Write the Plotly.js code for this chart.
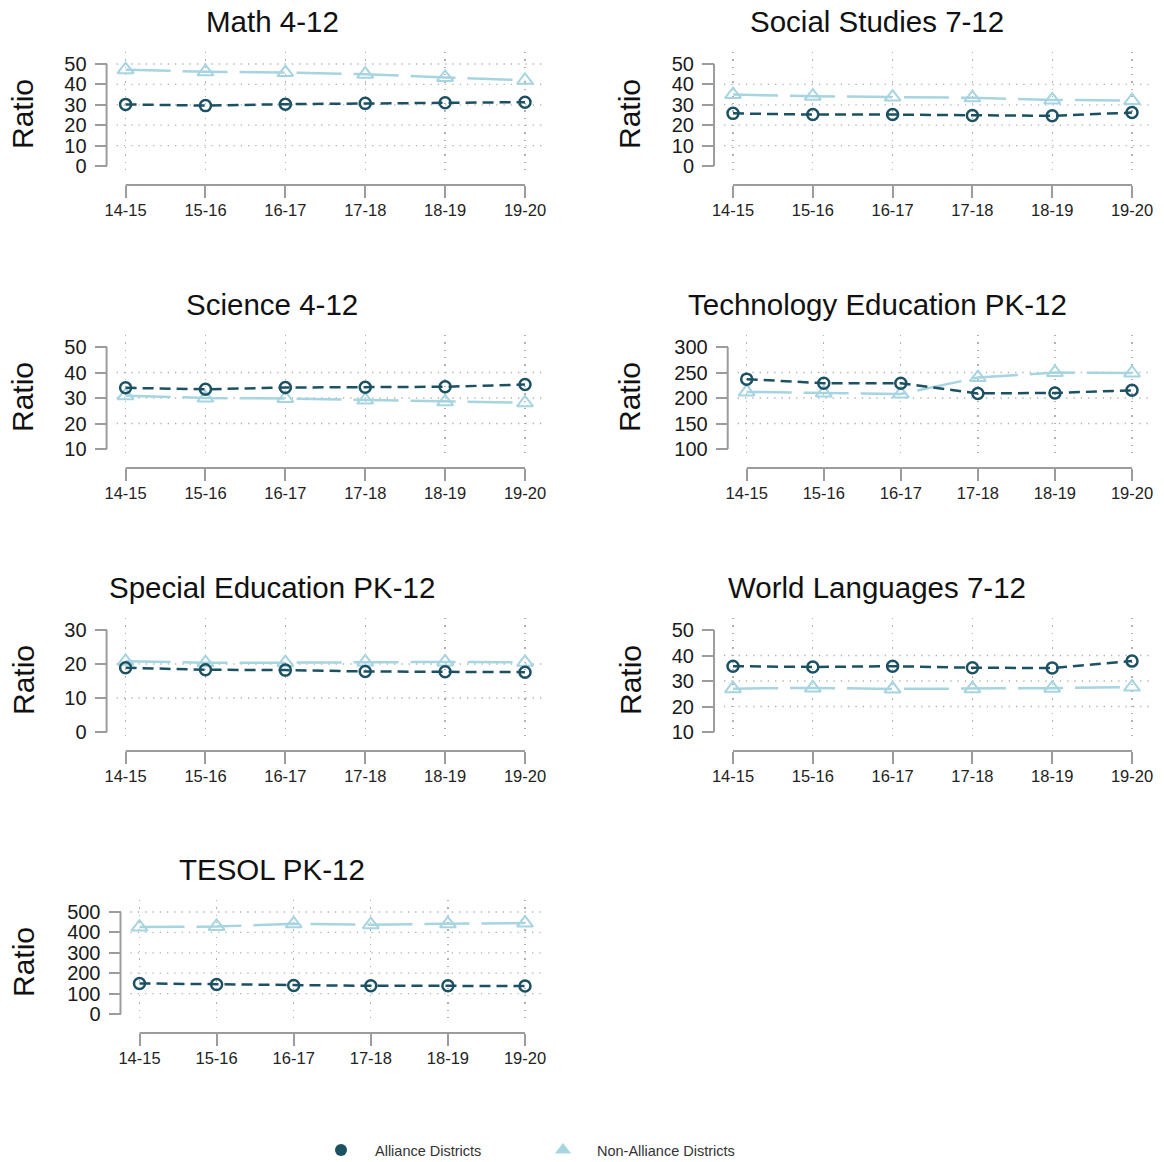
<!DOCTYPE html>
<html>
<head>
<meta charset="utf-8">
<script src="https://cdn.plot.ly/plotly-3.0.1.min.js"></script>
<style>html,body{margin:0;padding:0;background:#fff;}#chart{width:1164px;height:1162px;}</style>
</head>
<body>
<div id="chart"></div>
<script>
// ---- data ----
const years = ['14-15', '15-16', '16-17', '17-18', '18-19', '19-20'];
const seriesNames = ['Alliance Districts', 'Non-Alliance Districts'];
const panelTitles = ['Math 4-12', 'Social Studies 7-12', 'Science 4-12', 'Technology Education PK-12',
                     'Special Education PK-12', 'World Languages 7-12', 'TESOL PK-12'];

const mathAlliance      = [30.2, 29.6, 30.3, 30.7, 31.0, 31.3];
const mathNonAlliance   = [47.2, 46.2, 45.8, 45.0, 43.4, 42.0];
const socialAlliance    = [25.8, 25.2, 25.2, 24.8, 24.6, 26.2];
const socialNonAlliance = [35.0, 34.2, 33.8, 33.4, 32.4, 32.1];
const scienceAlliance   = [34.0, 33.4, 34.1, 34.2, 34.4, 35.3];
const scienceNonAlliance= [30.9, 30.0, 29.8, 29.2, 28.5, 28.1];
const techAlliance      = [237, 229, 229, 209, 210, 215];
const techNonAlliance   = [212, 210, 208, 240, 250, 249];
const spedAlliance      = [18.9, 18.3, 18.2, 17.8, 17.7, 17.6];
const spedNonAlliance   = [20.8, 20.4, 20.4, 20.6, 20.6, 20.5];
const wlAlliance        = [35.8, 35.5, 35.8, 35.2, 35.1, 37.8];
const wlNonAlliance     = [27.0, 27.3, 26.9, 27.0, 27.2, 27.6];
const tesolAlliance     = [150, 145, 140, 138, 138, 137];
const tesolNonAlliance  = [426, 429, 442, 438, 442, 446];

const mathTicks    = [0, 10, 20, 30, 40, 50];
const socialTicks  = [0, 10, 20, 30, 40, 50];
const scienceTicks = [10, 20, 30, 40, 50];
const techTicks    = [100, 150, 200, 250, 300];
const spedTicks    = [0, 10, 20, 30];
const wlTicks      = [10, 20, 30, 40, 50];
const tesolTicks   = [0, 100, 200, 300, 400, 500];

const mathGrid    = [10, 20, 30, 40, 50];
const socialGrid  = [10, 20, 30, 40];
const scienceGrid = [20, 30, 40];
const techGrid    = [150, 200, 250];
const spedGrid    = [10, 20];
const wlGrid      = [20, 30, 40];
const tesolGrid   = [100, 200, 300, 400, 500];

// ---- layout helpers ----
const W = 1164, H = 1162;
const darkColor = '#1b5163', lightColor = '#a6d4e0';
const axisGray = '#9c9c9c', gridGray = '#b0b0b0';
const FONT = 'Liberation Sans, Arial, sans-serif';

const panels = [
  {title: panelTitles[0], a: mathAlliance,    n: mathNonAlliance,    ticks: mathTicks,    grid: mathGrid,    col: 0, row: 0, first: 125.6},
  {title: panelTitles[1], a: socialAlliance,  n: socialNonAlliance,  ticks: socialTicks,  grid: socialGrid,  col: 1, row: 0, first: 733},
  {title: panelTitles[2], a: scienceAlliance, n: scienceNonAlliance, ticks: scienceTicks, grid: scienceGrid, col: 0, row: 1, first: 125.6},
  {title: panelTitles[3], a: techAlliance,    n: techNonAlliance,    ticks: techTicks,    grid: techGrid,    col: 1, row: 1, first: 746.7},
  {title: panelTitles[4], a: spedAlliance,    n: spedNonAlliance,    ticks: spedTicks,    grid: spedGrid,    col: 0, row: 2, first: 125.6},
  {title: panelTitles[5], a: wlAlliance,      n: wlNonAlliance,      ticks: wlTicks,      grid: wlGrid,      col: 1, row: 2, first: 733},
  {title: panelTitles[6], a: tesolAlliance,   n: tesolNonAlliance,   ticks: tesolTicks,   grid: tesolGrid,   col: 0, row: 3, first: 139.5}
];
const rowTop = [64, 347, 630, 912];     // pixel y of highest tick
const colLast = [525, 1132];            // pixel x of last category
const titleX = [272, 877];
const ratioX = [23, 630];
const TICKSPAN = 102;

const traces = [];
const layout = {
  width: W, height: H, autosize: false,
  margin: {l: 0, r: 0, t: 0, b: 0, autoexpand: false},
  paper_bgcolor: '#fff', plot_bgcolor: '#fff',
  font: {family: FONT, color: '#222'},
  showlegend: true,
  legend: {
    orientation: 'h', x: 307 / W, xanchor: 'left', y: 1 - 1150 / H, yanchor: 'middle',
    font: {family: FONT, size: 14.5, color: '#333'},
    itemwidth: 58, entrywidth: 149, entrywidthmode: 'pixels', bgcolor: 'rgba(0,0,0,0)'
  },
  annotations: [],
  shapes: []
};

panels.forEach((p, i) => {
  const k = i + 1;
  const xa = 'xaxis' + (k === 1 ? '' : k), ya = 'yaxis' + (k === 1 ? '' : k);
  const xr = 'x' + (k === 1 ? '' : k), yr = 'y' + (k === 1 ? '' : k);
  const T = rowTop[p.row];
  const last = colLast[p.col];
  const u = (last - p.first) / (years.length - 1);
  const lo = p.ticks[0], hi = p.ticks[p.ticks.length - 1];
  const s = (hi - lo) / TICKSPAN;
  const yAxisPos = (p.first - 19) / W;
  const xAxisPos = 1 - (T + TICKSPAN + 19) / H;

  layout[xa] = {
    type: 'category', categoryorder: 'array', categoryarray: years,
    domain: [(p.first - 9) / W, (last + 19) / W],
    range: [-9 / u, (years.length - 1) + 19 / u],
    anchor: 'free', position: xAxisPos,
    showline: false, zeroline: false,
    showgrid: true, gridcolor: gridGray, gridwidth: 1.3, griddash: '1.3px,6px',
    ticks: 'outside', ticklen: 12, tickwidth: 2, tickcolor: axisGray,
    ticklabelstandoff: -2,
    tickfont: {family: FONT, size: 16.5, color: '#222'},
    fixedrange: true
  };
  layout[ya] = {
    domain: [1 - (T + TICKSPAN + 9) / H, 1 - (T - 12) / H],
    range: [lo - 9 * s, hi + 12 * s],
    anchor: 'free', position: yAxisPos,
    tickmode: 'array', tickvals: p.ticks,
    showline: false, zeroline: false, showgrid: false,
    ticks: 'outside', ticklen: 12, tickwidth: 2, tickcolor: axisGray,
    ticklabelstandoff: 4,
    tickfont: {family: FONT, size: 20, color: '#1a1a1a'},
    fixedrange: true
  };

  // axis lines spanning the tick range (Stata style)
  layout.shapes.push({type: 'line', xref: 'paper', yref: yr, x0: yAxisPos, x1: yAxisPos, y0: lo, y1: hi,
                      line: {color: axisGray, width: 2}});
  layout.shapes.push({type: 'line', xref: xr, yref: 'paper', x0: years[0], x1: years[years.length - 1],
                      y0: xAxisPos, y1: xAxisPos, line: {color: axisGray, width: 2}});
  // horizontal dotted grid
  p.grid.forEach(g => layout.shapes.push({
    type: 'line', layer: 'below', xref: xr + ' domain', yref: yr, x0: 0, x1: 1, y0: g, y1: g,
    line: {color: gridGray, width: 1.3, dash: '1.3px,6px'}
  }));

  // titles
  layout.annotations.push({text: p.title, xref: 'paper', yref: 'paper', x: titleX[p.col] / W, y: 1 - (T - 43) / H,
    xanchor: 'center', yanchor: 'middle', showarrow: false, font: {family: FONT, size: 29.5, color: '#111'}});
  layout.annotations.push({text: 'Ratio', xref: 'paper', yref: 'paper', x: ratioX[p.col] / W, y: 1 - (T + 50) / H,
    xanchor: 'center', yanchor: 'middle', textangle: -90, showarrow: false, font: {family: FONT, size: 30, color: '#111'}});

  traces.push({
    type: 'scatter', mode: 'lines+markers', name: seriesNames[1], x: years, y: p.n,
    xaxis: xr, yaxis: yr, showlegend: false, cliponaxis: false,
    line: {color: lightColor, width: 2.5, dash: '45px,12px'},
    marker: {symbol: 'triangle-up-open', size: 14, color: lightColor, line: {width: 2, color: lightColor}}
  });
  traces.push({
    type: 'scatter', mode: 'lines+markers', name: seriesNames[0], x: years, y: p.a,
    xaxis: xr, yaxis: yr, showlegend: false, cliponaxis: false,
    line: {color: darkColor, width: 2.5, dash: '11px,6px'},
    marker: {symbol: 'circle-open', size: 11, color: darkColor, line: {width: 2.5, color: darkColor}}
  });
});

// legend entries (marker only)
traces.push({type: 'scatter', mode: 'markers', name: seriesNames[0], x: [null], y: [null], xaxis: 'x', yaxis: 'y',
  marker: {symbol: 'circle', size: 12, color: darkColor}});
traces.push({type: 'scatter', mode: 'markers', name: seriesNames[1], x: [null], y: [null], xaxis: 'x', yaxis: 'y',
  marker: {symbol: 'triangle-up', size: 14, color: lightColor}});

Plotly.newPlot('chart', traces, layout, {displayModeBar: false, staticPlot: true});
</script>
</body>
</html>
